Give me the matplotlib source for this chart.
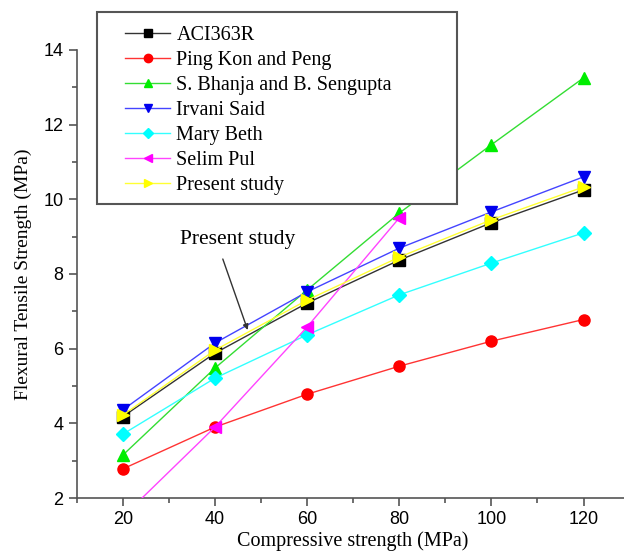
import matplotlib
matplotlib.use("Agg")
import matplotlib.pyplot as plt
from matplotlib.ticker import MultipleLocator
from matplotlib.patches import Rectangle

x = [20, 40, 60, 80, 100, 120]
aci = [4.18, 5.88, 7.22, 8.37, 9.37, 10.25]
ping = [2.78, 3.9, 4.78, 5.53, 6.2, 6.78]
bhanja = [3.15, 5.48, 7.57, 9.63, 11.46, 13.25]
irvani = [4.36, 6.15, 7.52, 8.69, 9.66, 10.6]
mary = [3.71, 5.21, 6.37, 7.44, 8.29, 9.1]
selim_x = [20, 40, 60, 80]
selim = [1.5, 3.9, 6.58, 9.5]
present = [4.22, 5.96, 7.3, 8.45, 9.45, 10.33]

series = [
    ("ACI363R", x, aci, "#333333", "black", "s"),
    ("Ping Kon and Peng", x, ping, "#ff3333", "red", "o"),
    ("S. Bhanja and B. Sengupta", x, bhanja, "#33dd33", "#00ee00", "^"),
    ("Irvani Said", x, irvani, "#4444ff", "#0000ee", "v"),
    ("Mary Beth", x, mary, "#33ffff", "#00ffff", "D"),
    ("Selim Pul", selim_x, selim, "#ff44ff", "#ff00ff", "<"),
    ("Present study", x, present, "#ffff33", "#ffff00", ">"),
]

fig = plt.figure(figsize=(6.24, 5.54), dpi=100)
ax = fig.add_axes([0.123, 0.101, 0.886, 0.809])

serif = ["Liberation Serif", "DejaVu Serif"]
sans = ["Liberation Sans", "DejaVu Sans"]

handles = []
for name, xs, ys, lc, mc, mk in series:
    ms = 7 if mk == "D" else 8
    h, = ax.plot(xs, ys, color=lc, lw=1.0, marker=mk, markersize=ms,
                 markerfacecolor=mc, markeredgecolor=mc, label=name, zorder=3)
    handles.append(h)

ax.set_xlim(10, 130)
ax.set_ylim(2, 14)
ax.xaxis.set_major_locator(MultipleLocator(20))
ax.xaxis.set_minor_locator(MultipleLocator(10))
ax.yaxis.set_major_locator(MultipleLocator(2))
ax.yaxis.set_minor_locator(MultipleLocator(1))

for s in ["top", "right"]:
    ax.spines[s].set_visible(False)
for s in ["left", "bottom"]:
    ax.spines[s].set_color("#555555")
    ax.spines[s].set_linewidth(1.2)
ax.tick_params(which="both", direction="out", colors="#555555", labelcolor="black",
               width=1.2)
ax.tick_params(which="major", length=6, labelsize=13)
ax.tick_params(which="minor", length=3.5)
for lab in ax.get_xticklabels() + ax.get_yticklabels():
    lab.set_family(sans)

ax.set_xlabel("Compressive strength (MPa)", family=serif, fontsize=14.5, labelpad=2)
ax.set_ylabel("Flexural Tensile Strength (MPa)", family=serif, fontsize=14, labelpad=8)

ax.text(45.0, 8.93, "Present study", ha="center", va="center", family=serif,
        fontsize=15.5)
ax.annotate("", xy=(47.1, 6.5), xytext=(41.7, 8.4),
            arrowprops=dict(arrowstyle="-|>", color="#333333", lw=1.0,
                            mutation_scale=8, shrinkA=0, shrinkB=0))

# legend frame drawn separately for exact size
fig.patches.append(Rectangle((97 / 624, 1 - 204 / 554), (457 - 97) / 624,
                             (204 - 12) / 554, transform=fig.transFigure,
                             facecolor="white", edgecolor="#555555", lw=1.5,
                             zorder=4))
leg = fig.legend(handles=handles, loc="upper left",
                 bbox_to_anchor=(125 / 624, 1 - 26 / 554),
                 prop={"family": serif, "size": 14.5}, frameon=False,
                 borderpad=0, handlelength=2.25, handletextpad=0.3,
                 labelspacing=0.29, borderaxespad=0, markerscale=0.75)
leg.set_zorder(5)

fig.savefig("out.png", dpi=100)
